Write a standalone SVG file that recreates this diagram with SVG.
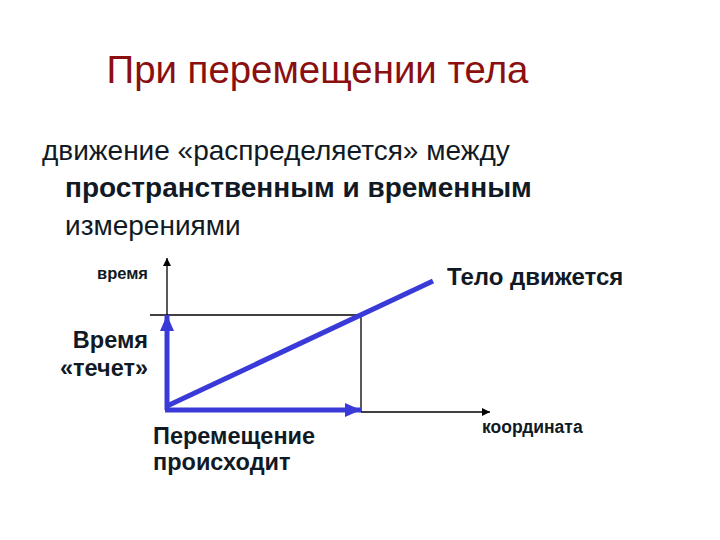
<svg xmlns="http://www.w3.org/2000/svg" width="720" height="540" viewBox="0 0 720 540">
<style>
text{font-family:"Liberation Sans",Arial,sans-serif;fill:#111a24}
.title{font-size:38.4px;fill:#8b0f0f}
.body{font-size:28px}
.b{font-weight:bold}
.thin{stroke:#000;stroke-width:1.3;fill:none}
.blue{stroke:#3a3ad8;stroke-width:5;fill:none}
</style>
<defs>
<marker id="ah" markerWidth="8" markerHeight="8" refX="8" refY="4" orient="auto" markerUnits="userSpaceOnUse"><path d="M0,0 L8,4 L0,8 Z" fill="#000"/></marker>
<marker id="bh" markerWidth="16" markerHeight="14" refX="16" refY="7" orient="auto" markerUnits="userSpaceOnUse"><path d="M0,0 L16,7 L0,14 Z" fill="#3a3ad8"/></marker>
</defs>
<rect width="720" height="540" fill="#fff"/>
<g id="title"><text class="title" x="317.5" y="83" text-anchor="middle">При перемещении тела</text></g>
<g id="body">
<text class="body" x="42" y="160">движение «распределяется» между</text>
<text class="body b" x="65" y="197">пространственным и временным</text>
<text class="body" x="65" y="235">измерениями</text>
</g>
<g id="connectors">
<line class="thin" x1="167" y1="412" x2="167" y2="258" marker-end="url(#ah)"/>
<line class="thin" x1="150" y1="315" x2="361" y2="315"/>
<line class="thin" x1="361" y1="315" x2="361" y2="412"/>
<line class="thin" x1="361" y1="412" x2="490" y2="412" marker-end="url(#ah)"/>
<line class="blue" x1="167" y1="410" x2="167" y2="315" marker-end="url(#bh)"/>
<line class="blue" x1="165" y1="410" x2="361" y2="410" marker-end="url(#bh)"/>
<line class="blue" x1="167" y1="406" x2="433" y2="281"/>
</g>
<g id="labels">
<text class="b" x="148" y="279" text-anchor="end" font-size="16.5">время</text>
<text class="b" x="148" y="348" text-anchor="end" font-size="23.5">Время</text>
<text class="b" x="148" y="376" text-anchor="end" font-size="23.5">«течет»</text>
<text class="b" x="153" y="444" font-size="23.5">Перемещение</text>
<text class="b" x="153" y="470" font-size="23.5">происходит</text>
<text class="b" x="447" y="285" font-size="24">Тело движется</text>
<text class="b" x="482" y="433" font-size="17.5">координата</text>
</g>
</svg>
